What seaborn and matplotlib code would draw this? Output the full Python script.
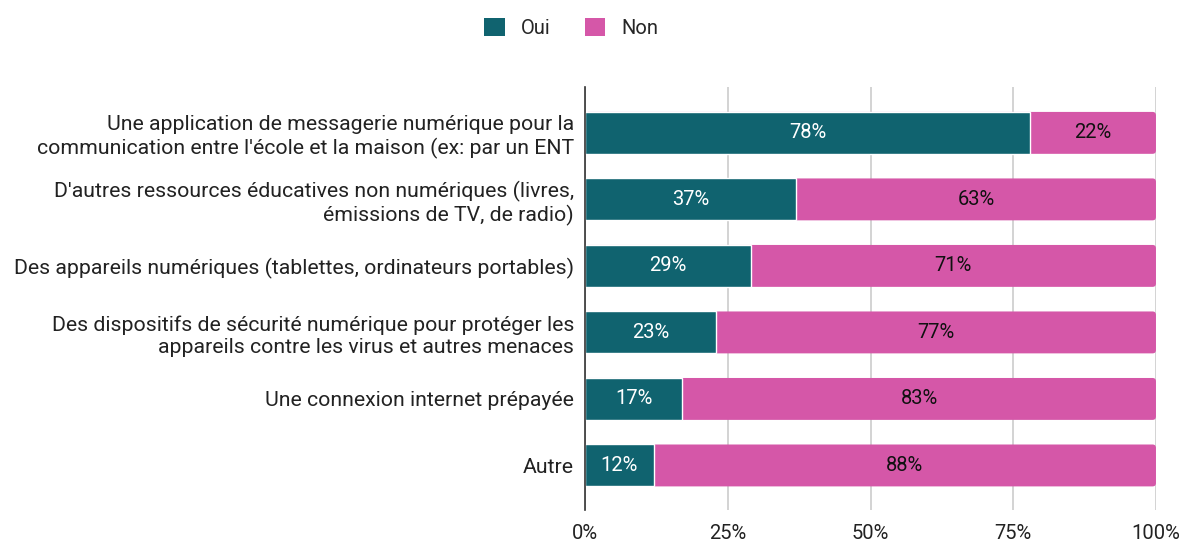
import matplotlib
matplotlib.use("Agg")
import matplotlib.pyplot as plt
from matplotlib.patches import FancyBboxPatch
import seaborn as sns
import pandas as pd

categories = [
    "Une application de messagerie numérique pour la\ncommunication entre l'école et la maison (ex: par un ENT",
    "D'autres ressources éducatives non numériques (livres,\némissions de TV, de radio)",
    "Des appareils numériques (tablettes, ordinateurs portables)",
    "Des dispositifs de sécurité numérique pour protéger les\nappareils contre les virus et autres menaces",
    "Une connexion internet prépayée",
    "Autre",
]
oui = [78, 37, 29, 23, 17, 12]
non = [22, 63, 71, 77, 83, 88]
series_names = ["Oui", "Non"]
tick_values = [0, 25, 50, 75, 100]
tick_labels = ["0%", "25%", "50%", "75%", "100%"]

color_oui = "#10636f"
color_non = "#d557a8"

sns.set_theme(style="white")
plt.rcParams["font.family"] = ["Roboto", "DejaVu Sans"]

df = pd.DataFrame({"cat": categories, "Oui": oui, "Non": non})
df["total"] = df["Oui"] + df["Non"]

fig = plt.figure(figsize=(11.85, 5.45), dpi=100)
ax = fig.add_axes([0.4937, 0.0642, 0.4818, 0.7762])

sns.barplot(data=df, y="cat", x="total", color=color_non, orient="h",
            width=0.63, ax=ax, zorder=3, saturation=1)
n_pink = len(ax.patches)
sns.barplot(data=df, y="cat", x="Oui", color=color_oui, orient="h",
            width=0.63, ax=ax, zorder=4, saturation=1)

# Give the stacked bars a slightly rounded outer end
for p in list(ax.patches[:n_pink]):
    x, y, w, h = p.get_x(), p.get_y(), p.get_width(), p.get_height()
    p.set_visible(False)
    ax.add_patch(FancyBboxPatch((x, y), w, h,
                                boxstyle="round,pad=0,rounding_size=0.6",
                                mutation_aspect=0.085, facecolor=color_non,
                                edgecolor="none", zorder=3))

for i, (o, n) in enumerate(zip(oui, non)):
    ax.text(o / 2, i, f"{o}%", ha="center", va="center", color="white",
            fontsize=14.5, zorder=5)
    ax.text(o + n / 2, i, f"{n}%", ha="center", va="center", color="#111111",
            fontsize=14.5, zorder=5)

ax.set_xlim(0, 100)
ax.set_ylim(len(categories) - 0.33, -0.69)
ax.set_xticks(tick_values)
ax.set_xticklabels(tick_labels, fontsize=14.5, color="#222222")
ax.tick_params(axis="y", labelsize=15.3, labelcolor="#222222", length=0, pad=8)
ax.tick_params(axis="x", length=0, pad=10)
ax.set_xlabel("")
ax.set_ylabel("")
ax.xaxis.grid(True, color="#cccccc", linewidth=1.2, zorder=0)
ax.set_axisbelow(True)
for side in ["top", "right", "bottom"]:
    ax.spines[side].set_visible(False)
ax.spines["left"].set_color("#333333")
ax.spines["left"].set_linewidth(1.2)
ax.spines["left"].set_zorder(6)

for lbl in ax.get_yticklabels():
    lbl.set_horizontalalignment("right")
    lbl.set_multialignment("right")

legend_handles = [
    FancyBboxPatch((0, 0), 1, 1, boxstyle="round,pad=0,rounding_size=0.15",
                   facecolor=c, edgecolor="none")
    for c in (color_oui, color_non)
]
fig.legend(legend_handles, series_names,
           loc="center", bbox_to_anchor=(0.482, 0.948), ncol=2,
           frameon=False, fontsize=14.5, handlelength=1.0,
           handleheight=1.0, columnspacing=1.7, handletextpad=0.8)

fig.savefig("out.png", dpi=100)
